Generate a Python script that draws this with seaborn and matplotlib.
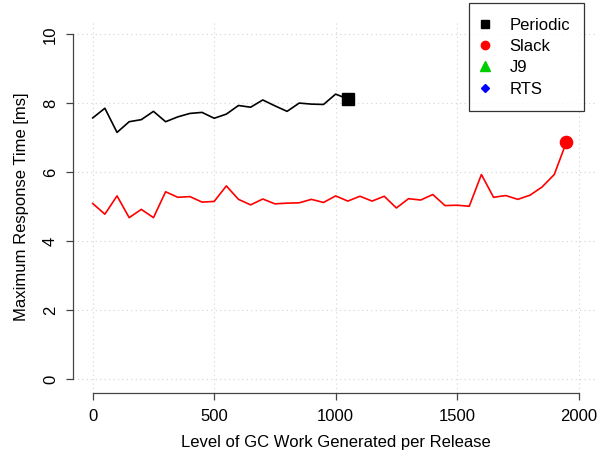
import numpy as np
import pandas as pd
import matplotlib
matplotlib.use("Agg")
import matplotlib.pyplot as plt
from matplotlib.lines import Line2D
import seaborn as sns

# ---- data ----
periodic_x = list(range(0, 1051, 50))
periodic_y = [7.58, 7.86, 7.16, 7.47, 7.53, 7.77, 7.47, 7.61, 7.71, 7.74, 7.57,
              7.69, 7.94, 7.89, 8.10, 7.93, 7.77, 8.01, 7.98, 7.97, 8.27, 8.13]
slack_x = list(range(0, 1951, 50))
slack_y = [5.10, 4.79, 5.32, 4.69, 4.93, 4.69, 5.44, 5.28, 5.30, 5.14, 5.16,
           5.61, 5.22, 5.06, 5.23, 5.09, 5.11, 5.12, 5.22, 5.13, 5.32, 5.17,
           5.31, 5.17, 5.31, 4.97, 5.24, 5.20, 5.36, 5.04, 5.05, 5.02, 5.94,
           5.28, 5.33, 5.22, 5.34, 5.58, 5.94, 6.88]
legend_labels = ["Periodic", "Slack", "J9", "RTS"]
x_ticks = [0, 500, 1000, 1500, 2000]
y_ticks = [0, 2, 4, 6, 8, 10]

plt.rcParams['font.family'] = ['Liberation Sans', 'DejaVu Sans']

fig = plt.figure(figsize=(6.16, 4.57), dpi=100)
ax = fig.add_axes([73.3/616, 1-393.3/457, (598-73.3)/616, (393.3-20.6)/457])

df_p = pd.DataFrame({"x": periodic_x, "y": periodic_y})
df_s = pd.DataFrame({"x": slack_x, "y": slack_y})
sns.lineplot(data=df_p, x="x", y="y", ax=ax, color="black", linewidth=1.2)
sns.lineplot(data=df_s, x="x", y="y", ax=ax, color="#FF0000", linewidth=1.2)
ax.plot([periodic_x[-1]], [periodic_y[-1]], marker="s", color="black",
        markersize=8.2, linestyle="none")
ax.plot([slack_x[-1]], [slack_y[-1]], marker="o", color="#FF0000",
        markersize=8.8, linestyle="none")

ax.set_xlim(-80, 2080)
ax.set_ylim(-0.4, 10.4)
ax.set_xticks(x_ticks)
ax.set_yticks(y_ticks)
for xv in x_ticks:
    ax.axvline(xv, color="#d3d3d3", linestyle=(0, (1, 3)), linewidth=0.8, zorder=0)
for yv in y_ticks:
    ax.axhline(yv, color="#d3d3d3", linestyle=(0, (1, 3)), linewidth=0.8, zorder=0)

for s in ["top", "right"]:
    ax.spines[s].set_visible(False)
ax.spines["left"].set_bounds(0, 10)
ax.spines["bottom"].set_bounds(0, 2000)
for s in ["left", "bottom"]:
    ax.spines[s].set_color("#444444")
    ax.spines[s].set_linewidth(0.9)
ax.tick_params(axis="both", direction="out", length=5, width=0.9,
               colors="#444444", labelcolor="black", labelsize=12, pad=6)
for lab in ax.get_yticklabels():
    lab.set_rotation(90)
    lab.set_va("center")
ax.set_xlabel("Level of GC Work Generated per Release", fontsize=12, labelpad=8)
ax.set_ylabel("Maximum Response Time [ms]", fontsize=12, labelpad=10)

handles = [
    Line2D([], [], marker="s", color="black", linestyle="none", markersize=5.5),
    Line2D([], [], marker="o", color="#FF0000", linestyle="none", markersize=6),
    Line2D([], [], marker="^", color="#00CD00", linestyle="none", markersize=6.5),
    Line2D([], [], marker="D", color="#0000FF", linestyle="none", markersize=4.5),
]
leg = fig.legend(handles, legend_labels, loc="upper right",
                 bbox_to_anchor=(584.3/616, 1-3.3/457), fontsize=12,
                 frameon=True, fancybox=False, edgecolor="black",
                 borderpad=0.86, labelspacing=0.38, handletextpad=1.34,
                 handlelength=0.2, borderaxespad=0)
leg.get_frame().set_linewidth(0.9)

fig.savefig("out.png", dpi=100)
